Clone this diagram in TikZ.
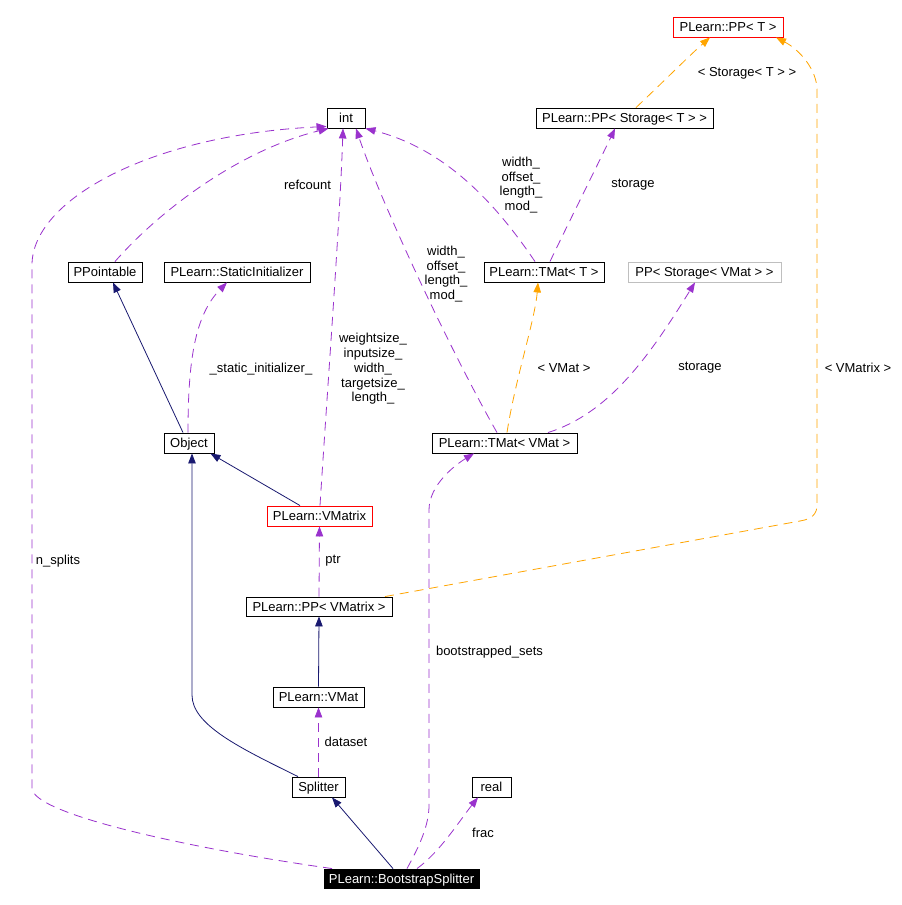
\documentclass[tikz,border=0pt]{standalone}
\usepackage{fontspec}
\setmainfont{Liberation Sans}
\usetikzlibrary{arrows.meta,calc}
\definecolor{edgepurple}{HTML}{9A32CD}
\definecolor{edgenavy}{HTML}{191970}
\definecolor{edgeorange}{HTML}{FFA500}
\definecolor{boxred}{HTML}{FF0000}
\definecolor{boxgrey}{HTML}{BFBFBF}
\tikzset{
  every node/.style={font=\fontsize{13}{14.8}\selectfont},
  box/.style={draw=black, line width=0.9pt, fill=white, inner sep=0pt, minimum height=20pt, text height=9.2pt, text depth=-0.4pt},
  redbox/.style={box, draw=boxred},
  greybox/.style={box, draw=boxgrey},
  mainbox/.style={box, fill=black, draw=black, text=white},
  lbl/.style={inner sep=0pt, align=center},
  tip/.style={-{Triangle[length=10pt,width=7.5pt]}},
  pdash/.style={tip, draw=edgepurple, line width=0.8pt, dash pattern=on 9pt off 6pt},
  odash/.style={tip, draw=edgeorange, line width=0.8pt, dash pattern=on 9pt off 6pt},
  navy/.style={tip, draw=edgenavy, line width=0.8pt},
}
\begin{document}
\begin{tikzpicture}[x=1pt,y=-1pt]
\useasboundingbox[fill=white] (0,0) rectangle (902,905);
% nodes
\node[redbox, minimum width=110pt] (ppT) at (728,27) {PLearn::PP< T >};
\node[box, minimum width=38pt] (int) at (346,118) {int};
\node[box, minimum width=177pt] (ppST) at (624.5,118) {PLearn::PP< Storage< T > >};
\node[box, minimum width=74pt] (ppointable) at (105,272) {PPointable};
\node[box, minimum width=146pt] (static) at (237,272) {PLearn::StaticInitializer};
\node[box, minimum width=120pt] (tmatT) at (544,272) {PLearn::TMat< T >};
\node[greybox, minimum width=153pt] (ppSV) at (704.5,272) {PP< Storage< VMat > >};
\node[box, minimum width=50pt] (object) at (189,443) {Object};
\node[box, minimum width=145pt] (tmatV) at (504.5,443) {PLearn::TMat< VMat >};
\node[redbox, minimum width=105pt] (vmatrix) at (319.5,516) {PLearn::VMatrix};
\node[box, minimum width=146pt, minimum height=19pt] (ppVM) at (319,606.5) {PLearn::PP< VMatrix >};
\node[box, minimum width=91pt] (vmat) at (318.5,697) {PLearn::VMat};
\node[box, minimum width=53pt] (splitter) at (318.5,787) {Splitter};
\node[box, minimum width=39pt] (real) at (491.5,787) {real};
\node[mainbox, minimum width=155pt, minimum height=19pt] (bs) at (401.5,878.5) {PLearn::BootstrapSplitter};

% edges
% n_splits
\draw[pdash] ([xshift=-69.5pt]bs.north) .. controls (200,850) and (32,815) .. (32,788)
   -- (32,265) .. controls (32,200) and (150,135) .. ([yshift=2pt]int.south west);
\node[lbl] at (58,561) {n\_splits};
% refcount
\draw[pdash] ([xshift=10pt]ppointable.north) .. controls (160,210) and (240,150) .. ([xshift=2pt]int.south west);
\node[lbl] at (307.5,185) {refcount};
% VMatrix -> int
\draw[pdash] ([xshift=0.5pt]vmatrix.north) .. controls (328,380) and (340,220) .. ([xshift=-3pt]int.south);
\node[lbl] at (373,369) {weightsize\_\\inputsize\_\\width\_\\targetsize\_\\length\_};
% TMat<VMat> -> int
\draw[pdash] ([xshift=-7.5pt]tmatV.north) .. controls (450,350) and (380,200) .. ([xshift=10pt]int.south);
\node[lbl] at (446,274) {width\_\\offset\_\\length\_\\mod\_};
% TMat<T> -> int
\draw[pdash] ([xshift=-9pt]tmatT.north) .. controls (500,210) and (450,150) .. (int.south east);
\node[lbl] at (521,185) {width\_\\offset\_\\length\_\\mod\_};
% TMat<T> -> PP<Storage<T>>
\draw[pdash] ([xshift=6pt]tmatT.north) .. controls (565,230) and (600,160) .. ([xshift=-9.5pt]ppST.south);
\node[lbl] at (633,185) {storage};
% PP<Storage<T>> -> PP<T>
\draw[odash] ([xshift=11.5pt]ppST.north) .. controls (660,85) and (690,55) .. ([xshift=-18pt]ppT.south);
\node[lbl] at (747,73) {< Storage< T > >};
% PP<VMatrix> -> PP<T>
\draw[odash] ([xshift=66pt]ppVM.north) -- (800,521) .. controls (812,519) and (817,514) .. (817,505)
   -- (817,90) .. controls (817,70) and (800,50) .. ([xshift=48pt]ppT.south);
\node[lbl] at (858,368) {< VMatrix >};
% TMat<VMat> -> TMat<T>
\draw[odash] ([xshift=2.5pt]tmatV.north) .. controls (515,380) and (535,320) .. ([xshift=-6pt]tmatT.south);
\node[lbl] at (564,368) {< VMat >};
% TMat<VMat> -> PP<Storage<VMat>>
\draw[pdash] ([xshift=43.5pt]tmatV.north) .. controls (610,413) and (650,355) .. ([xshift=-9.5pt]ppSV.south);
\node[lbl] at (700,368) {storage};
% Object -> StaticInitializer
\draw[pdash] ([xshift=-1pt]object.north) .. controls (188,360) and (195,315) .. ([xshift=-10pt]static.south);
\node[lbl] at (261,369) {\_static\_initializer\_};
% Object -> PPointable
\draw[navy] ([xshift=-6pt]object.north) -- ([xshift=8pt]ppointable.south);
% VMatrix -> Object
\draw[navy] ([xshift=-19.5pt]vmatrix.north) -- ([xshift=-4pt]object.south east);
% Splitter -> Object
\draw[navy] ([xshift=-20.5pt]splitter.north) .. controls (240,748) and (192,725) .. (192,695) -- ([xshift=3pt]object.south);
% PP<VMatrix> -> VMatrix
\draw[pdash] (ppVM.north) -- (vmatrix.south);
\node[lbl] at (333,561) {ptr};
% VMat -> PP<VMatrix>
\draw[navy] (vmat.north) -- (ppVM.south);
% Splitter -> VMat
\draw[pdash] (splitter.north) -- (vmat.south);
\node[lbl] at (346,742) {dataset};
% BootstrapSplitter -> Splitter
\draw[navy] ([xshift=-8.5pt]bs.north) -- ([xshift=13.5pt]splitter.south);
% BootstrapSplitter -> TMat<VMat>
\draw[pdash] ([xshift=5.5pt]bs.north) .. controls (420,845) and (429,825) .. (429,805)
   -- (429,510) .. controls (429,485) and (455,465) .. ([xshift=-30.5pt]tmatV.south);
\node[lbl] at (489.5,652) {bootstrapped\_sets};
% BootstrapSplitter -> real
\draw[pdash] ([xshift=15.5pt]bs.north) .. controls (440,852) and (460,820) .. ([xshift=-13.5pt]real.south);
\node[lbl] at (483,833) {frac};
\end{tikzpicture}
\end{document}
